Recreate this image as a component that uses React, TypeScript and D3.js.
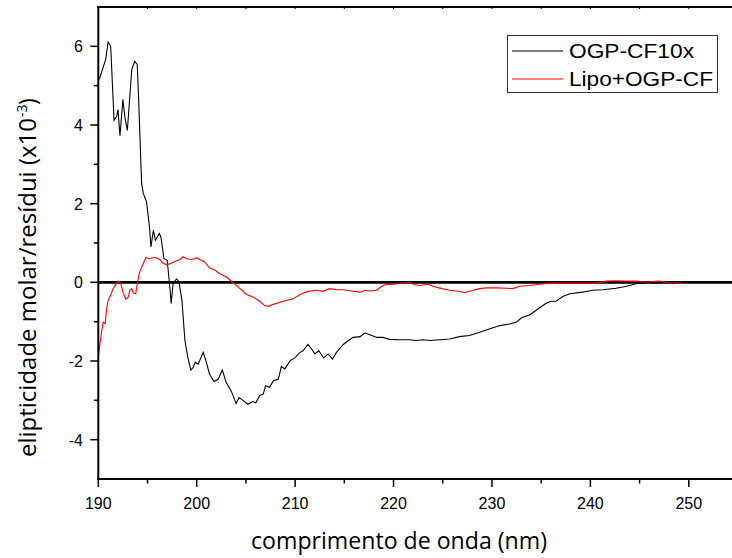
import React from "react";
import * as d3 from "d3";

// Wavelength (nm) and molar ellipticity per residue (x10^-3) for each sample
const ogpWavelength = [
  190.1, 190.75, 191.0, 191.26, 191.6, 191.87, 192.0, 192.2, 192.5, 192.7, 192.95, 193.4, 193.7, 193.96,
  194.1, 194.3, 194.4, 194.57, 194.9, 195.2, 195.35, 195.6, 195.8, 196.2, 196.37, 196.67, 197.0, 197.3,
  197.4, 197.6, 197.96, 198.2, 198.5, 198.8, 199.1, 199.4, 199.65, 199.85, 200.15, 200.66, 200.93, 201.3,
  201.75, 202.2, 202.6, 203.0, 203.5, 204.0, 204.3, 204.7, 205.2, 205.7, 206.0, 206.4, 206.75, 207.0,
  207.4, 207.8, 208.3, 208.6, 208.95, 209.5, 209.97, 210.5, 210.8, 211.3, 211.66, 212.0, 212.4, 212.9,
  213.35, 213.8, 214.2, 214.9, 215.4, 215.9, 216.6, 217.1, 217.6, 218.3, 218.9, 219.6, 220.6, 221.6,
  222.3, 223.0, 223.7, 224.7, 225.7, 226.7, 227.7, 228.75, 229.8, 230.8, 231.8, 232.5, 233.0, 233.8,
  234.5, 235.5, 236.0, 236.5, 237.2, 237.9, 239.2, 240.25, 241.3, 242.6, 243.3, 244.0, 244.7, 245.3,
  246.5, 247.5, 248.5,
];
const ogpValue = [
  5.16, 5.67, 6.11, 6.0, 4.12, 4.22, 4.39, 3.73, 4.65, 4.2, 3.86, 5.41, 5.62, 5.54,
  4.65, 3.2, 2.52, 2.26, 2.05, 1.41, 0.9, 1.33, 1.07, 1.24, 1.14, 0.6, 0.56, -0.2,
  -0.54, -0.03, 0.09, 0.01, -0.46, -1.48, -1.91, -2.23, -2.16, -2.03, -2.08, -1.78, -1.99, -2.33,
  -2.52, -2.46, -2.23, -2.55, -2.76, -3.08, -2.93, -3.0, -3.1, -3.03, -3.06, -2.88, -2.84, -2.63,
  -2.67, -2.5, -2.46, -2.14, -2.2, -1.99, -1.92, -1.78, -1.74, -1.58, -1.69, -1.82, -1.74, -1.92,
  -1.82, -1.95, -1.78, -1.58, -1.48, -1.4, -1.38, -1.29, -1.33, -1.4, -1.4, -1.45, -1.46, -1.46,
  -1.48, -1.46, -1.48, -1.46, -1.44, -1.38, -1.35, -1.27, -1.18, -1.1, -1.06, -1.01, -0.9, -0.83,
  -0.71, -0.53, -0.48, -0.48, -0.36, -0.29, -0.25, -0.2, -0.19, -0.15, -0.12, -0.08, -0.03, -0.02,
  0.0, -0.01, -0.02,
];

const lipoWavelength = [
  190.0, 190.17, 190.35, 190.5, 190.7, 190.85, 191.0, 191.26, 191.5, 192.0, 192.3, 192.5, 192.8, 193.05,
  193.2, 193.4, 193.55, 193.8, 193.96, 194.2, 194.57, 194.85, 195.1, 195.4, 195.76, 196.26, 196.6, 197.0,
  197.45, 197.9, 198.3, 198.6, 198.97, 199.5, 199.99, 200.3, 200.8, 201.3, 201.85, 202.35, 203.0, 203.7,
  204.4, 205.07, 205.7, 206.4, 206.9, 207.26, 207.77, 208.8, 209.8, 210.5, 211.3, 212.2, 212.8, 213.5,
  214.2, 214.9, 215.7, 216.6, 217.1, 217.6, 218.3, 218.8, 219.1, 220.0, 220.6, 221.3, 221.6, 222.15,
  222.65, 223.5, 224.0, 224.9, 225.7, 226.4, 227.2, 228.1, 228.75, 229.4, 230.4, 231.5, 232.1, 232.8,
  233.8, 234.8, 235.9, 237.2, 238.5, 240.6, 241.6, 242.6, 243.6, 244.6, 245.6, 246.96, 248.0, 249.2,
];
const lipoValue = [
  -1.91, -1.56, -1.23, -1.01, -1.05, -0.67, -0.46, -0.33, -0.16, 0.03, -0.03, -0.25, -0.43, -0.37,
  -0.2, -0.16, -0.27, -0.29, -0.03, 0.26, 0.48, 0.63, 0.6, 0.62, 0.63, 0.58, 0.48, 0.45,
  0.49, 0.54, 0.58, 0.65, 0.6, 0.58, 0.62, 0.58, 0.52, 0.37, 0.31, 0.22, 0.14, -0.01,
  -0.16, -0.31, -0.37, -0.48, -0.59, -0.61, -0.56, -0.48, -0.42, -0.31, -0.23, -0.2, -0.23, -0.16,
  -0.19, -0.19, -0.22, -0.25, -0.2, -0.22, -0.2, -0.1, -0.06, -0.05, -0.03, -0.01, 0.0, -0.06,
  -0.08, -0.05, -0.1, -0.16, -0.2, -0.22, -0.26, -0.2, -0.16, -0.14, -0.14, -0.15, -0.16, -0.1,
  -0.08, -0.05, -0.02, -0.02, -0.02, -0.02, 0.03, 0.04, 0.03, 0.03, 0.01, 0.03, -0.01, -0.02,
];

const xMajorTicks = [190, 200, 210, 220, 230, 240, 250];
const yMajorTicks = [-4, -2, 0, 2, 4, 6];
const seriesNames = ["OGP-CF10x", "Lipo+OGP-CF"];
const seriesColors = ["#000000", "#ff0000"];

const W = 732;
const H = 558;
const left = 98.3;
const right = 738;
const top = 7;
const bottom = 479;

export default function App() {
  const x = d3.scaleLinear().domain([190, 255]).range([left, right]);
  const y = d3.scaleLinear().domain([-5, 7]).range([bottom, top]);

  const line = d3
    .line<[number, number]>()
    .x((d) => x(d[0]))
    .y((d) => y(d[1]));

  const ogp: [number, number][] = ogpWavelength.map((w, i) => [w, ogpValue[i]]);
  const lipo: [number, number][] = lipoWavelength.map((w, i) => [w, lipoValue[i]]);

  const xMinor = d3.range(195, 255, 10);
  const xTop = d3.range(195, 255, 5);
  const yMinor = d3.range(-5, 7, 2).filter((v) => v > -5);

  const sansFont = "'Liberation Sans', Arial, sans-serif";
  const titleFont = "'Open Sans', 'Noto Sans', sans-serif";

  // rotated y title: main run, then superscript exponent, then closing bracket
  const yTitleStart = 457;
  const yTitleMain = 339;
  const yTitleX = 36;

  return (
    <svg
      width={W}
      height={H}
      style={{ position: "absolute", left: 0, top: 0, background: "#fff" }}
    >
      <defs>
        <clipPath id="plot-clip">
          <rect x={left} y={top} width={right - left} height={bottom - top} />
        </clipPath>
      </defs>
      <rect x={0} y={0} width={W} height={H} fill="#fff" />

      {/* zero reference line */}
      <line x1={left} x2={W} y1={y(0)} y2={y(0)} stroke="#000" strokeWidth={2.6} />

      <g clipPath="url(#plot-clip)" fill="none">
        <path d={line(ogp) || ""} stroke={seriesColors[0]} strokeWidth={1.1} />
        <path d={line(lipo) || ""} stroke={seriesColors[1]} strokeWidth={1.1} />
      </g>

      {/* axes frame */}
      <line x1={left} x2={left} y1={top - 1} y2={bottom + 1} stroke="#000" strokeWidth={2} />
      <line x1={left - 1} x2={W} y1={bottom} y2={bottom} stroke="#000" strokeWidth={2} />
      <line x1={left - 1} x2={W} y1={top} y2={top} stroke="#000" strokeWidth={2} />

      {/* bottom axis ticks */}
      {xMajorTicks.map((t) => (
        <g key={"xm" + t}>
          <line x1={x(t)} x2={x(t)} y1={bottom} y2={bottom + 8} stroke="#000" strokeWidth={1.5} />
          <text
            x={x(t)}
            y={509}
            textAnchor="middle"
            fontFamily={sansFont}
            fontSize={16}
            fill="#000"
          >
            {t}
          </text>
        </g>
      ))}
      {xMinor.map((t) => (
        <line key={"xn" + t} x1={x(t)} x2={x(t)} y1={bottom} y2={bottom + 4.5} stroke="#000" strokeWidth={1.5} />
      ))}
      {/* top axis ticks */}
      {xTop.map((t) => (
        <line key={"xt" + t} x1={x(t)} x2={x(t)} y1={top} y2={top + 2} stroke="#000" strokeWidth={1} />
      ))}

      {/* left axis ticks */}
      {yMajorTicks.map((t) => (
        <g key={"ym" + t}>
          <line x1={left - 8} x2={left} y1={y(t)} y2={y(t)} stroke="#000" strokeWidth={1.5} />
          <text
            x={83}
            y={y(t) + 6}
            textAnchor="end"
            fontFamily={sansFont}
            fontSize={16}
            fill="#000"
          >
            {t}
          </text>
        </g>
      ))}
      {yMinor.map((t) => (
        <line key={"yn" + t} x1={left - 4.5} x2={left} y1={y(t)} y2={y(t)} stroke="#000" strokeWidth={1.5} />
      ))}

      {/* legend */}
      <g>
        <rect x={507.5} y={35.5} width={210} height={57} fill="#fff" stroke="#333" strokeWidth={1} />
        {seriesNames.map((name, i) => (
          <g key={name}>
            <line
              x1={512}
              x2={563}
              y1={51 + i * 28}
              y2={51 + i * 28}
              stroke={seriesColors[i]}
              strokeWidth={1}
            />
            <text
              x={569}
              y={58 + i * 28}
              fontFamily={sansFont}
              fontSize={20}
              fill="#000"
              textLength={i === 0 ? 125 : 144}
              lengthAdjust="spacingAndGlyphs"
            >
              {name}
            </text>
          </g>
        ))}
      </g>

      {/* axis titles */}
      <text
        x={399}
        y={549}
        textAnchor="middle"
        fontFamily={titleFont}
        fontSize={23}
        fill="#000"
        textLength={296}
        lengthAdjust="spacingAndGlyphs"
      >
        comprimento de onda (nm)
      </text>
      <g transform={`translate(${yTitleX},${yTitleStart}) rotate(-90)`} fontFamily={titleFont} fill="#000">
        <text x={0} y={0} fontSize={23} textLength={yTitleMain} lengthAdjust="spacingAndGlyphs">
          elipticidade molar/resídui (x10
        </text>
        <text x={yTitleMain + 1} y={-9} fontSize={14}>
          -3
        </text>
        <text x={yTitleMain + 13} y={0} fontSize={23}>
          )
        </text>
      </g>
    </svg>
  );
}
